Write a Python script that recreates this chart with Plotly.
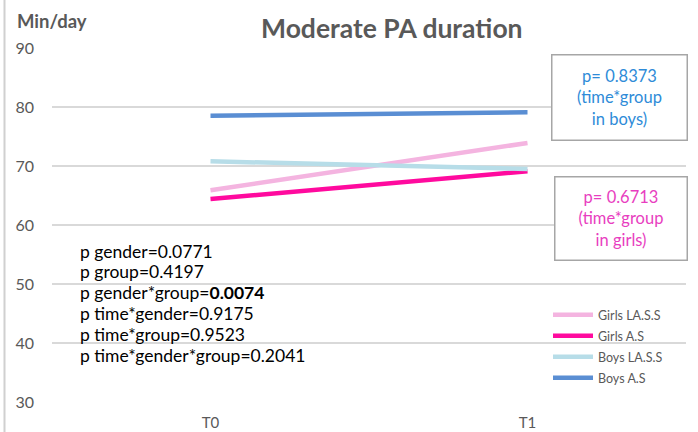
import plotly.graph_objects as go

# ---- data ----
timepoints = ["T0", "T1"]
series_names = ["Girls LA.S.S", "Girls A.S", "Boys LA.S.S", "Boys A.S"]
girls_lass = [65.9, 73.9]
girls_as = [64.4, 69.1]
boys_lass = [70.8, 69.5]
boys_as = [78.5, 79.1]
series_values = [girls_lass, girls_as, boys_lass, boys_as]
series_colors = ["#F4B4E0", "#FF0A9E", "#B7DDE8", "#5A8ED3"]
y_ticks = [30, 40, 50, 60, 70, 80, 90]
stats_lines = [
    "p gender=0.0771",
    "p group=0.4197",
    "p gender*group=<b>0.0074</b>",
    "p time*gender=0.9175",
    "p time*group=0.9523",
    "p time*gender*group=0.2041",
]
boys_note = "p= 0.8373<br>(time*group<br>in boys)"
girls_note = "p= 0.6713<br>(time*group<br>in girls)"

W, H = 698, 432
L, R, T, B = 52, 12, 48, 30
PW, PH = W - L - R, H - T - B
FONT = "Lato"


def px(x):
    return (x - L) / PW


def py(y):
    return (H - B - y) / PH


fig = go.Figure()
legend_ids = ["legend", "legend2", "legend3", "legend4"]
for i, (name, vals, col) in enumerate(zip(series_names, series_values, series_colors)):
    fig.add_trace(go.Scatter(
        x=timepoints, y=vals, name=name, mode="lines",
        line=dict(color=col, width=4.5), legend=legend_ids[i],
    ))

legend_common = dict(
    xanchor="left", yanchor="middle",
    font=dict(size=12.5, color="#595959", family=FONT),
    bgcolor="rgba(0,0,0,0)", itemwidth=40, tracegroupgap=0,
)
legend_layout = {}
for i, lid in enumerate(legend_ids):
    legend_layout[lid] = dict(x=px(548), y=py(315 + 21 * i), **legend_common)

fig.update_layout(
    width=W, height=H,
    margin=dict(l=L, r=R, t=T, b=B, autoexpand=False),
    paper_bgcolor="white", plot_bgcolor="white",
    font=dict(family=FONT, color="#595959"),
    showlegend=True,
    xaxis=dict(
        type="category", range=[-0.5, 1.5], showgrid=False, zeroline=False,
        showline=False, ticks="", automargin=False, ticklabelstandoff=10,
        tickfont=dict(size=15, color="#595959"),
    ),
    yaxis=dict(
        range=[30, 90], tickvals=y_ticks, showgrid=True, gridcolor="#D9D9D9",
        gridwidth=1.5, zeroline=False, showline=False, ticks="", automargin=False,
        tickfont=dict(size=16, color="#595959"), ticklabelstandoff=17,
    ),
    **legend_layout,
)

# Title and axis unit
fig.add_annotation(text="<b>Moderate PA duration</b>", x=px(392), y=py(28),
                   xref="paper", yref="paper", showarrow=False,
                   xanchor="center", yanchor="middle",
                   font=dict(size=26.5, color="#595959", family=FONT))
fig.add_annotation(text="<b>Min/day</b>", x=px(15), y=py(21),
                   xref="paper", yref="paper", showarrow=False,
                   xanchor="left", yanchor="middle",
                   font=dict(size=18.5, color="#595959", family=FONT))

# Stats lines
for i, s in enumerate(stats_lines):
    fig.add_annotation(text=s, x=px(78), y=py(251 + 20.8 * i),
                       xref="paper", yref="paper", showarrow=False,
                       xanchor="left", yanchor="middle",
                       font=dict(size=17.5, color="#000000", family=FONT))

# Boxed notes
fig.add_annotation(text=boys_note, x=px(619.5), y=py(97), xref="paper", yref="paper",
                   showarrow=False, xanchor="center", yanchor="middle",
                   width=134, height=84, borderpad=0,
                   bordercolor="#A6A6A6", borderwidth=1.5, bgcolor="white",
                   font=dict(size=16.5, color="#2E8BD8", family=FONT))
fig.add_annotation(text=girls_note, x=px(621), y=py(218), xref="paper", yref="paper",
                   showarrow=False, xanchor="center", yanchor="middle",
                   width=131, height=82, borderpad=0,
                   bordercolor="#A6A6A6", borderwidth=1.5, bgcolor="white",
                   font=dict(size=16.5, color="#E83EC0", family=FONT))

# chart-area left border
fig.add_shape(type="line", xref="paper", yref="paper", x0=px(4.5), x1=px(4.5),
              y0=py(0), y1=py(432), line=dict(color="#D0D0D0", width=2))

fig.write_html("out.html", config={"displayModeBar": False},
               post_script="document.body.style.margin='0';")
